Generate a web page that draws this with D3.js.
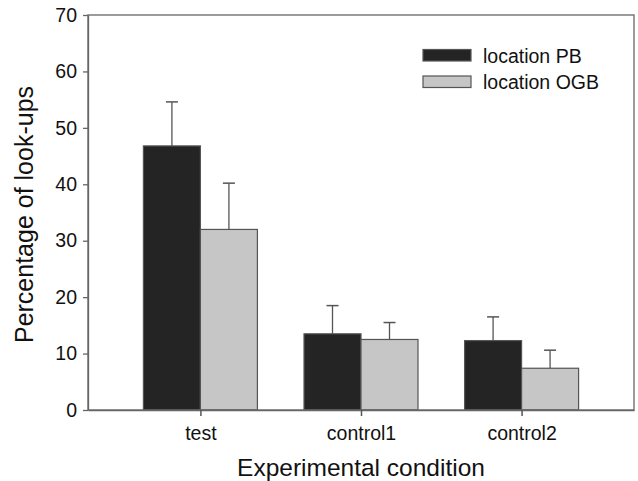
<!DOCTYPE html>
<html>
<head>
<meta charset="utf-8">
<script src="https://cdn.jsdelivr.net/npm/d3@7"></script>
<style>
  body { margin: 0; background: #fff; }
  text { font-family: Arial, "Liberation Sans", sans-serif; fill: #111; }
</style>
</head>
<body>
<div class="flex-container"></div>
<script>
var width = 638;
var height = 481;

var margin = { "top": 15, "bottom": 71, "left": 88, "right": 4 };

// data
var conditions = ["test", "control1", "control2"];
var seriesNames = ["location PB", "location OGB"];
var meanPB = [46.8, 13.5, 12.3];
var errPB = [7.8, 5.0, 4.2];
var meanOGB = [32.0, 12.5, 7.4];
var errOGB = [8.2, 3.0, 3.2];
var yTicks = [0, 10, 20, 30, 40, 50, 60, 70];

var colors = ["#242424", "#c6c6c6"];

var svg = d3.select(".flex-container")
              .append("svg")
              .attr("width", width)
              .attr("height", height);

var plotW = width - margin.left - margin.right;
var plotH = height - margin.top - margin.bottom;

var g = svg.append("g")
           .attr("transform", "translate(" + margin.left + "," + margin.top + ")");

var scaleX = d3.scalePoint().domain(conditions).range([0, plotW]).padding(0.7);
var scaleY = d3.scaleLinear().domain([0, 70]).range([plotH, 0]);
var barW = 57;

var rows = [];
conditions.forEach(function(c, i) {
  rows.push({ cond: c, s: 0, v: meanPB[i], e: errPB[i] });
  rows.push({ cond: c, s: 1, v: meanOGB[i], e: errOGB[i] });
});

function barX(d) { return scaleX(d.cond) + (d.s === 0 ? -barW : 0); }

// error bars (drawn first so bars cover the lower half)
g.selectAll("line.err")
  .data(rows)
  .enter()
  .append("line")
  .attr("class", "err")
  .attr("x1", function(d) { return barX(d) + barW / 2; })
  .attr("x2", function(d) { return barX(d) + barW / 2; })
  .attr("y1", function(d) { return scaleY(d.v); })
  .attr("y2", function(d) { return scaleY(d.v + d.e); })
  .attr("stroke", "#555")
  .attr("stroke-width", 1.3);

g.selectAll("line.cap")
  .data(rows)
  .enter()
  .append("line")
  .attr("class", "cap")
  .attr("x1", function(d) { return barX(d) + barW / 2 - 6; })
  .attr("x2", function(d) { return barX(d) + barW / 2 + 6; })
  .attr("y1", function(d) { return scaleY(d.v + d.e); })
  .attr("y2", function(d) { return scaleY(d.v + d.e); })
  .attr("stroke", "#555")
  .attr("stroke-width", 1.5);

g.selectAll("rect.bar")
  .data(rows)
  .enter()
  .append("rect")
  .attr("class", "bar")
  .attr("x", barX)
  .attr("y", function(d) { return scaleY(d.v); })
  .attr("width", barW)
  .attr("height", function(d) { return plotH - scaleY(d.v); })
  .attr("fill", function(d) { return colors[d.s]; })
  .attr("stroke", "#555")
  .attr("stroke-width", 1.2);

// frame
g.append("rect")
  .attr("width", plotW)
  .attr("height", plotH)
  .attr("fill", "none")
  .attr("stroke", "#666")
  .attr("stroke-width", 1.3);

var yAxis = d3.axisLeft(scaleY).tickValues(yTicks).tickSizeInner(5).tickSizeOuter(0).tickPadding(6);
var yG = g.append("g").call(yAxis);
yG.select(".domain").attr("stroke", "#666").attr("stroke-width", 1.3);
yG.selectAll(".tick line").attr("stroke", "#666").attr("stroke-width", 1.3);
yG.selectAll(".tick text").style("font-size", "19.5px").attr("fill", "#111");

var xAxis = d3.axisBottom(scaleX).tickSizeInner(6).tickSizeOuter(0).tickPadding(10);
var xG = g.append("g").attr("transform", "translate(0," + plotH + ")").call(xAxis);
xG.select(".domain").attr("stroke", "#666").attr("stroke-width", 1.3);
xG.selectAll(".tick line").attr("stroke", "#555").attr("stroke-width", 1.5);
xG.selectAll(".tick text").style("font-size", "19.5px").attr("fill", "#111");

// axis titles
svg.append("text")
   .attr("x", margin.left + plotW / 2)
   .attr("y", 476)
   .attr("text-anchor", "middle")
   .style("font-size", "24.5px")
   .text("Experimental condition");

svg.append("text")
   .attr("transform", "translate(33," + (margin.top + plotH / 2 + 2) + ") rotate(-90)")
   .attr("text-anchor", "middle")
   .style("font-size", "25px")
   .text("Percentage of look-ups");

// legend
var legend = svg.append("g").attr("transform", "translate(423,49.5)");
seriesNames.forEach(function(name, i) {
  legend.append("rect")
        .attr("x", 0)
        .attr("y", i * 26.5)
        .attr("width", 48)
        .attr("height", 11.5)
        .attr("fill", colors[i])
        .attr("stroke", "#555")
        .attr("stroke-width", 1.2);
  legend.append("text")
        .attr("x", 60)
        .attr("y", i * 26.5 + 13)
        .style("font-size", "19.5px")
        .text(name);
});
</script>
</body>
</html>
